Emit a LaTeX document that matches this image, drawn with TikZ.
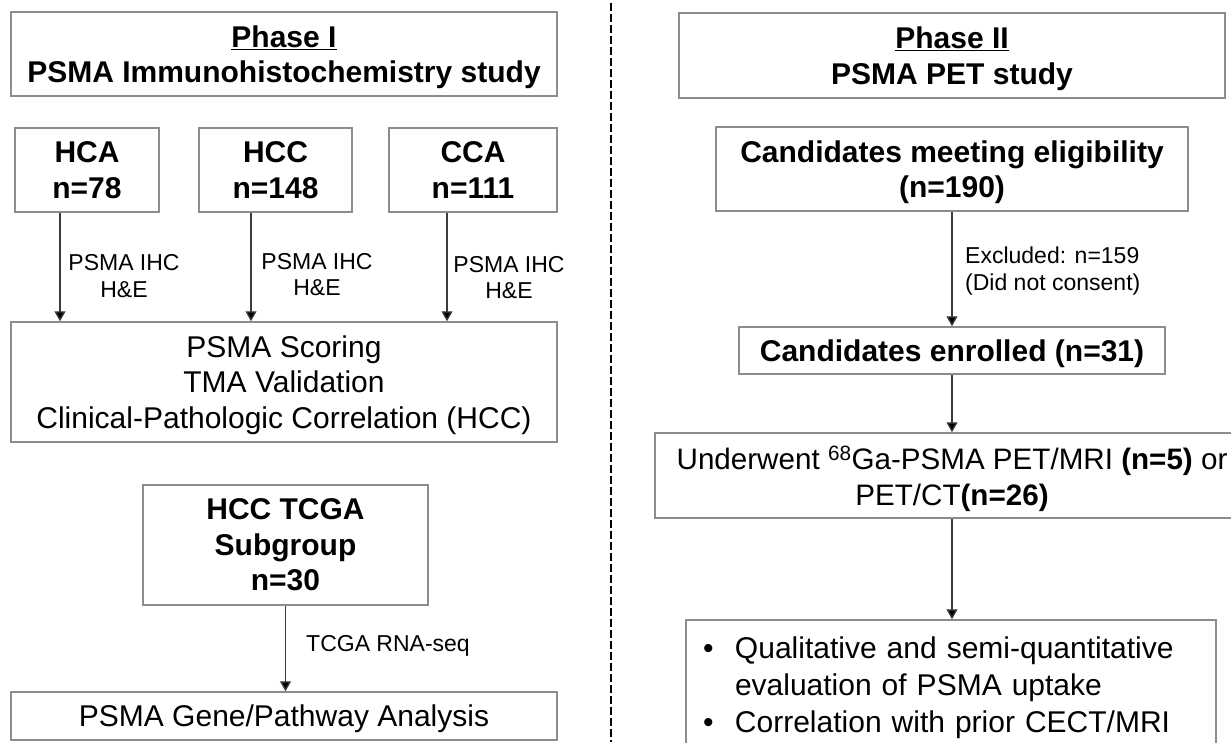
\documentclass[tikz,border=0pt]{standalone}
\usepackage{fontspec}
\setmainfont{Liberation Sans}
\usetikzlibrary{arrows.meta}
\definecolor{boxgray}{RGB}{140,140,140}
\definecolor{arrgray}{RGB}{60,60,60}
\begin{document}
\begin{tikzpicture}[x=1pt,y=-1pt,
  box/.style={draw=boxgray, line width=1.5pt, inner sep=0pt, align=center, text depth=0pt,
    font=\fontsize{30}{35.5}\selectfont},
  bbox/.style={box, font=\fontsize{30}{35.5}\selectfont\bfseries},
  arr/.style={draw=arrgray, line width=1.3pt, -{Triangle[width=11pt,length=10pt,fill=black]}},
  lbl/.style={inner sep=0pt, font=\fontsize{23}{26.5}\selectfont, align=center},
  divider/.style={draw=black, line width=2pt, dash pattern=on 8pt off 3pt}]
\useasboundingbox (0,0) rectangle (1231,742);

% ---------- Phase I ----------
\node[bbox, minimum width=546pt, minimum height=84pt] (phase1) at (284,54)
  {\underline{Phase I}\\PSMA Immunohistochemistry study};
\node[bbox, minimum width=144pt, minimum height=84pt] (hca) at (87,170) {HCA\\n=78};
\node[bbox, minimum width=153pt, minimum height=84pt] (hcc) at (275.5,170) {HCC\\n=148};
\node[bbox, minimum width=168pt, minimum height=84pt] (cca) at (473,170) {CCA\\n=111};
\node[box, minimum width=546pt, minimum height=120pt] (scoring) at (284,382)
  {PSMA Scoring\\TMA Validation\\Clinical-Pathologic Correlation (HCC)};
\node[bbox, minimum width=285pt, minimum height=120pt] (tcga) at (285.5,545)
  {HCC TCGA\\Subgroup\\n=30};
\node[box, minimum width=546pt, minimum height=48pt] (gene) at (284,716)
  {PSMA Gene/Pathway Analysis};

\coordinate (a1) at (60,0);
\coordinate (a2) at (251,0);
\coordinate (a3) at (447,0);
\draw[arr] (hca.south -| a1) -- (scoring.north -| a1);
\draw[arr] (hcc.south -| a2) -- (scoring.north -| a2);
\draw[arr] (cca.south -| a3) -- (scoring.north -| a3);
\node[lbl] (l1) at (124,276) {PSMA IHC\\H\&E};
\node[lbl] (l2) at (317,274.5) {PSMA IHC\\H\&E};
\node[lbl] (l3) at (509,277.5) {PSMA IHC\\H\&E};

\draw[arr] (tcga.south) -- (tcga.south |- gene.north);
\node[lbl, anchor=west] (l4) at (306,646) {TCGA RNA-seq};

% ---------- divider ----------
\coordinate (dtop) at (611,3);
\coordinate (dbot) at (611,742);
\draw[divider] (dtop) -- (dbot);

% ---------- Phase II ----------
\node[bbox, minimum width=546pt, minimum height=85pt] (phase2) at (952,55.5)
  {\underline{Phase II}\\PSMA PET study};
\node[bbox, minimum width=472pt, minimum height=84pt] (elig) at (952,169)
  {Candidates meeting eligibility\\(n=190)};
\node[bbox, minimum width=426pt, minimum height=47pt] (enrolled) at (952,350.5)
  {Candidates enrolled (n=31)};
\node[box, minimum width=594pt, minimum height=85pt, font=\fontsize{29.6}{35.5}\selectfont]
  (underwent) at (952,475.5)
  {Underwent \textsuperscript{68}Ga-PSMA PET/MRI \textbf{(n=5)} or\\PET/CT\textbf{(n=26)}};
\node[draw=boxgray, line width=1.5pt, inner xsep=17pt, inner ysep=0pt, text width=496pt,
  minimum height=136pt, align=left, font=\fontsize{30}{37}\selectfont] (final) at (951,688)
  {\makebox[32pt][l]{\textbullet}Qualitative and semi-quantitative\\
   \hspace*{32pt}evaluation of PSMA uptake\\
   \makebox[32pt][l]{\textbullet}Correlation with prior CECT/MRI};

\draw[arr] (elig.south) -- (enrolled.north);
\node[lbl, align=left, anchor=west] (l5) at (965,271) {Excluded: n=159\\(Did not consent)};
\draw[arr] (enrolled.south) -- (underwent.north -| enrolled.south);
\draw[arr] (underwent.south -| enrolled.south) -- (final.north -| enrolled.south);
\end{tikzpicture}
\end{document}
